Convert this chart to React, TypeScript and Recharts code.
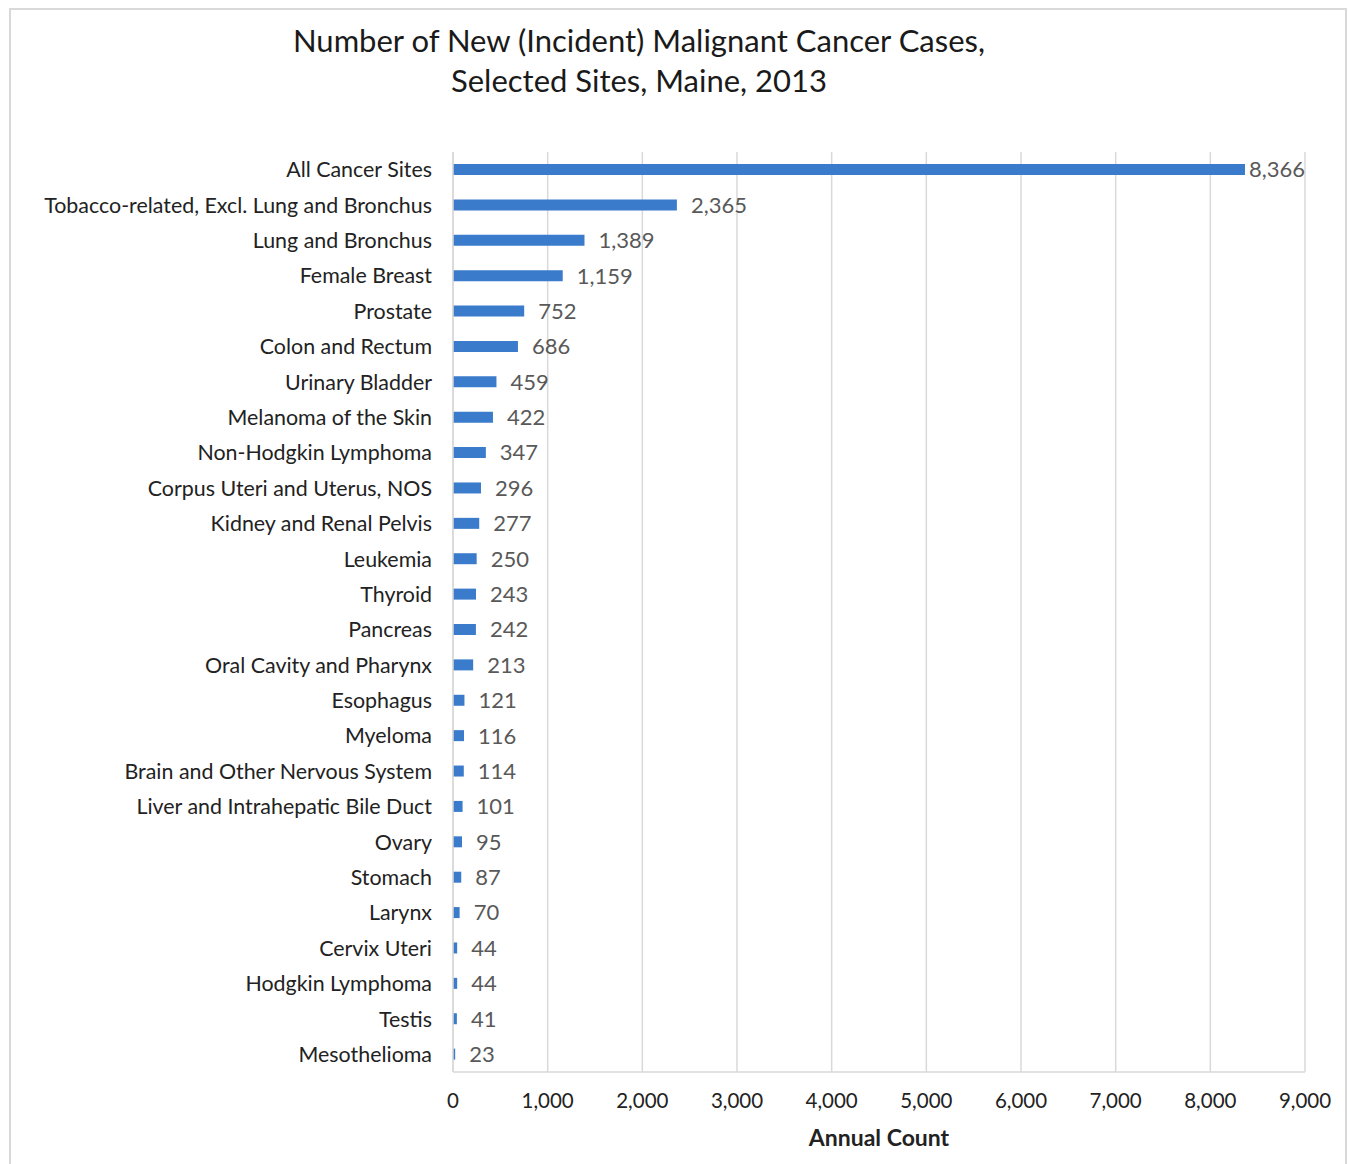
import React from 'react';
import { BarChart, Bar, XAxis, YAxis, CartesianGrid, LabelList } from 'recharts';

const categories = [
  'All Cancer Sites',
  'Tobacco-related, Excl. Lung and Bronchus',
  'Lung and Bronchus',
  'Female Breast',
  'Prostate',
  'Colon and Rectum',
  'Urinary Bladder',
  'Melanoma of the Skin',
  'Non-Hodgkin Lymphoma',
  'Corpus Uteri and Uterus, NOS',
  'Kidney and Renal Pelvis',
  'Leukemia',
  'Thyroid',
  'Pancreas',
  'Oral Cavity and Pharynx',
  'Esophagus',
  'Myeloma',
  'Brain and Other Nervous System',
  'Liver and Intrahepatic Bile Duct',
  'Ovary',
  'Stomach',
  'Larynx',
  'Cervix Uteri',
  'Hodgkin Lymphoma',
  'Testis',
  'Mesothelioma',
];

const counts = [8366, 2365, 1389, 1159, 752, 686, 459, 422, 347, 296, 277, 250, 243, 242, 213, 121, 116, 114, 101, 95, 87, 70, 44, 44, 41, 23];

const xTicks = [0, 1000, 2000, 3000, 4000, 5000, 6000, 7000, 8000, 9000];

const titleLines = ['Number of New (Incident) Malignant Cancer Cases,', 'Selected Sites, Maine, 2013'];
const axisTitle = 'Annual Count';

const data = categories.map((name, i) => ({ name, value: counts[i] }));

const FONT = 'Lato, "Open Sans", sans-serif';
const fmt = (v: number) => v.toLocaleString('en-US');

const PLOT_RIGHT = 1305;

const ValueLabel = (props: any) => {
  const { x, y, width, height, value } = props;
  const text = fmt(Number(value));
  const est = text.length * 11.2;
  let tx = x + width + 14;
  if (tx + est > PLOT_RIGHT) tx = Math.max(x + width + 3, PLOT_RIGHT - est);
  return (
    <text x={tx} y={y + height / 2} dy="0.36em" fill="#595959" fontSize={22} fontFamily={FONT} textAnchor="start">
      {text}
    </text>
  );
};

export default function App() {
  return (
    <div style={{ position: 'absolute', left: 0, top: 0, width: 1348, height: 1164, background: '#fff', fontFamily: FONT, overflow: 'hidden' }}>
      <div style={{ position: 'absolute', left: 9, top: 8, width: 1338, height: 1170, border: '2px solid #d9d9d9', boxSizing: 'border-box' }} />
      <div style={{ position: 'absolute', left: 0, top: 20, width: 1278, textAlign: 'center', fontSize: 31, lineHeight: '40px', color: '#1a1a1a' }}>
        {titleLines.map((t, i) => (
          <div key={i}>{t}</div>
        ))}
      </div>
      <div style={{ position: 'absolute', left: 0, top: 0 }}>
        <BarChart
          width={1348}
          height={1164}
          data={data}
          layout="vertical"
          margin={{ top: 152, right: 43, bottom: 0, left: 0 }}
          barSize={11}
        >
          <CartesianGrid horizontal={false} vertical={true} stroke="#d9d9d9" strokeWidth={1.5} />
          <XAxis
            type="number"
            domain={[0, 9000]}
            ticks={xTicks}
            tickFormatter={fmt}
            axisLine={{ stroke: '#d9d9d9', strokeWidth: 1.5 }}
            tickLine={false}
            tickSize={0}
            tickMargin={21}
            height={92}
            tick={{ fill: '#222', fontSize: 20.5, fontFamily: FONT }}
            interval={0}
            label={{ value: axisTitle, position: 'insideBottom', offset: 18, fill: '#222', fontSize: 23, fontWeight: 700, fontFamily: FONT }}
          />
          <YAxis
            type="category"
            dataKey="name"
            width={453}
            axisLine={{ stroke: '#d9d9d9', strokeWidth: 1.5 }}
            tickLine={false}
            tickSize={0}
            tickMargin={21}
            interval={0}
            tick={{ fill: '#222', fontSize: 21.4, fontFamily: FONT }}
          />
          <Bar dataKey="value" fill="#3a7bcb" isAnimationActive={false}>
            <LabelList dataKey="value" content={ValueLabel} />
          </Bar>
        </BarChart>
      </div>
    </div>
  );
}
